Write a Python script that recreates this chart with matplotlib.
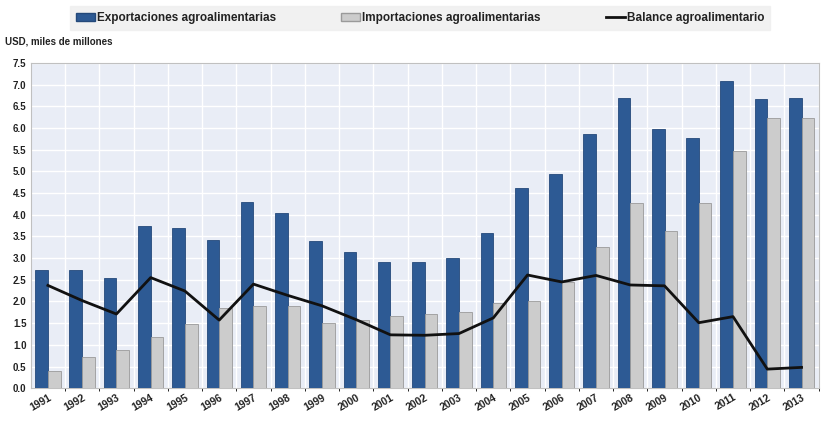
import matplotlib
matplotlib.use("Agg")
import matplotlib.pyplot as plt
import numpy as np
from matplotlib.patches import Patch
from matplotlib.lines import Line2D

years = [str(y) for y in range(1991, 2014)]
exportaciones = [2.73, 2.72, 2.55, 3.73, 3.70, 3.42, 4.29, 4.03, 3.39, 3.13, 2.90, 2.91,
                 3.01, 3.58, 4.62, 4.93, 5.85, 6.68, 5.97, 5.77, 7.09, 6.66, 6.70]
importaciones = [0.40, 0.72, 0.87, 1.18, 1.47, 1.86, 1.90, 1.90, 1.50, 1.57, 1.67, 1.70,
                 1.75, 1.96, 2.00, 2.45, 3.25, 4.28, 3.62, 4.27, 5.46, 6.23, 6.22]
balance = [2.37, 2.02, 1.71, 2.55, 2.24, 1.57, 2.40, 2.14, 1.90, 1.58, 1.23, 1.22,
           1.26, 1.62, 2.61, 2.45, 2.60, 2.38, 2.36, 1.51, 1.65, 0.44, 0.48]

plt.rcParams['font.family'] = ['Liberation Sans', 'DejaVu Sans']

blue = "#2d5a94"
grey = "#cccccc"

fig = plt.figure(figsize=(8.32, 4.28), dpi=100)
ax = fig.add_axes([0.037, 0.093, 0.947, 0.760])
ax.set_facecolor("#e9edf6")

x = np.arange(len(years))
w = 0.37
ax.bar(x - w / 2, exportaciones, w, color=blue, edgecolor="#24497a", linewidth=0.6, zorder=3)
ax.bar(x + w / 2, importaciones, w, color=grey, edgecolor="#9a9a9a", linewidth=0.6, zorder=3)
ax.plot(x, balance, color="#111111", linewidth=2.0, zorder=4)

ax.set_xlim(-0.5, len(years) - 0.5)
ax.set_ylim(0, 7.5)
ax.set_yticks(np.arange(0, 7.51, 0.5))
ax.set_yticklabels([f"{v:.1f}" for v in np.arange(0, 7.51, 0.5)], fontsize=7, fontweight="bold")
ax.set_xticks(x)
ax.set_xticklabels(years, rotation=30, ha="right", rotation_mode="anchor",
                   fontsize=7.5, fontweight="bold")
ax.tick_params(axis="both", length=0, pad=3, colors="#222222")
ax.grid(axis="y", color="white", linewidth=1.0, zorder=0)
ax.set_xticks(x + 0.5, minor=True)
ax.grid(axis="x", which="minor", color="white", linewidth=1.0, zorder=0)
for s in ax.spines.values():
    s.set_color("#c0c0c0")
    s.set_linewidth(0.8)

fig.text(0.006, 0.895, "USD, miles de millones", fontsize=7, fontweight="bold", color="#222222")

handles = [Patch(facecolor=blue, edgecolor="#24497a"),
           Patch(facecolor=grey, edgecolor="#9a9a9a"),
           Line2D([0], [0], color="#111111", linewidth=2)]
labels = ["Exportaciones agroalimentarias", "Importaciones agroalimentarias", "Balance agroalimentario"]
leg = fig.legend(handles, labels, loc="upper center", bbox_to_anchor=(0.505, 1.0), ncol=3,
                 frameon=True, fontsize=8.5, handlelength=1.6, handleheight=0.7,
                 handletextpad=0.2, columnspacing=5.5, borderpad=0.5)
leg.get_frame().set_facecolor("#eeeeee")
leg.get_frame().set_edgecolor("#eeeeee")
leg.get_frame().set_boxstyle("square", pad=0.0)
for t in leg.get_texts():
    t.set_fontweight("bold")
    t.set_color("#222222")

fig.savefig("out.png", dpi=100, facecolor="white")
